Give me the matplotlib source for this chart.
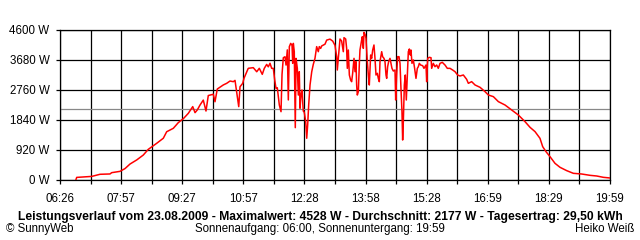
import matplotlib.pyplot as plt

plt.rcParams['font.family'] = ['Liberation Sans', 'DejaVu Sans']

# day curve, minutes after midnight and watts
minutes = [
    409.7, 410.7, 432.9, 445.1, 459.9, 462.4, 474.7, 482.1, 489.5, 499.4,
    509.1, 516.5, 528.9, 538.7, 543.7, 553.5, 560.9, 568.3, 575.7, 582.2,
    585.6, 589.0, 593.0, 597.8, 601.8, 605.2, 612.6, 615.1, 618.5, 627.4,
    632.4, 637.3, 642.2, 644.7, 648.1, 650.2, 652.1, 656.1, 658.0, 664.3,
    671.7, 676.8, 680.6, 683.1, 685.0, 688.0, 691.5, 693.9, 696.4, 698.9,
    701.3, 703.4, 705.3, 707.2, 708.7, 710.2, 712.7, 714.2, 716.1, 718.6,
    720.1, 722.0, 723.5, 725.0, 727.0, 729.0, 730.0, 730.9, 732.3, 733.8,
    734.9, 736.8, 738.3, 739.7, 740.8, 742.2, 743.7, 745.6, 747.1, 749.2,
    750.7, 752.1, 753.6, 755.6, 758.1, 760.4, 762.9, 765.4, 767.8, 769.3,
    771.3, 772.8, 777.7, 780.2, 785.1, 789.1, 792.5, 795.0, 795.9, 799.9,
    802.3, 804.8, 805.8, 808.3, 809.7, 810.7, 812.2, 813.7, 815.6, 817.1,
    818.6, 820.6, 822.1, 823.5, 824.5, 825.5, 827.0, 828.5, 829.4, 831.9,
    832.9, 834.4, 835.4, 837.3, 838.3, 840.3, 841.8, 843.2, 845.2, 846.7,
    848.2, 850.1, 851.6, 853.1, 855.1, 856.5, 858.0, 859.0, 861.5, 862.9,
    864.9, 866.4, 867.9, 868.9, 870.3, 871.8, 873.8, 875.3, 876.7, 878.7,
    881.2, 882.2, 883.6, 885.1, 887.1, 888.6, 890.0, 891.5, 892.5, 893.5,
    895.0, 896.4, 897.9, 899.4, 900.9, 902.4, 903.8, 904.8, 906.3, 908.3,
    910.2, 912.2, 914.2, 915.7, 917.1, 919.1, 922.1, 924.0, 927.0, 928.0,
    929.5, 931.9, 934.4, 935.4, 937.8, 940.3, 942.8, 945.2, 947.7, 951.1,
    955.1, 958.5, 962.5, 966.4, 969.9, 973.8, 977.3, 982.2, 987.1, 989.6,
    994.5, 999.5, 1006.9, 1014.3, 1019.2, 1026.6, 1034.0, 1043.8, 1053.7, 1063.5,
    1073.4, 1080.8, 1088.2, 1095.5, 1099.5, 1104.4, 1110.3, 1117.7, 1125.1, 1135.0,
    1144.8, 1157.1, 1169.5, 1179.3, 1189.2, 1199.0,
]
watts = [
    20, 80, 110, 175, 185, 225, 265, 350, 490, 615,
    765, 940, 1125, 1280, 1480, 1585, 1760, 1880, 2045, 2250,
    2065, 2150, 2300, 2450, 2115, 2590, 2630, 2400, 2790, 2915,
    2965, 3035, 3015, 3055, 2555, 2250, 2860, 2965, 3120, 3425,
    3445, 3320, 3425, 3320, 3240, 3425, 3545, 3470, 3580, 3424,
    3424, 3065, 2810, 2830, 2555, 2300, 2095, 3240, 3750, 3780,
    3525, 3990, 2455, 4090, 4190, 4130, 3580, 4190, 3935, 1605,
    3730, 3424, 2605, 3320, 2200, 2605, 2760, 2115, 2075, 1790,
    1280, 1690, 2300, 2915, 3320, 3545, 3730, 4090, 3935, 4090,
    4035, 4110, 4165, 4290, 4320, 4260, 4130, 3780, 3373, 4324,
    4262, 3935, 4365, 4324, 4037, 3424, 3986, 3220, 3066, 3015,
    3271, 3731, 3322, 3629, 2913, 2606, 2709, 3577, 3986, 4293,
    4395, 4037, 4528, 4446, 4344, 3629, 3220, 2913, 3833, 3731,
    3986, 4140, 3731, 3220, 3271, 3117, 3015, 3629, 3935, 3782,
    3731, 3629, 3220, 3117, 3475, 3629, 3731, 3577, 3424, 3342,
    3373, 2453, 3220, 3782, 3782, 3577, 2811, 2095, 1226, 1789,
    2913, 3220, 2453, 3220, 3935, 4017, 3833, 3986, 3577, 3680,
    3424, 3117, 3424, 3475, 3577, 3526, 3506, 3424, 3526, 3015,
    3731, 3761, 3751, 3424, 3577, 3475, 3526, 3424, 3577, 3608,
    3526, 3424, 3424, 3373, 3322, 3220, 3190, 3220, 3087, 2965,
    3016, 2914, 2842, 2709, 2607, 2556, 2403, 2300, 2147, 1994,
    1789, 1615, 1483, 1278, 1023, 869, 716, 511, 389, 287,
    205, 184, 143, 123, 82, 62,
]

x_labels = ['06:26', '07:57', '09:27', '10:57', '12:28',
            '13:58', '15:28', '16:59', '18:29', '19:59']
y_ticks = [0, 920, 1840, 2760, 3680, 4600]
t_start, t_end = 386, 1199
average_w = 2177

fig = plt.figure(figsize=(6.4, 2.4), dpi=100)
ax = fig.add_axes([60 / 640, 60 / 240, 550 / 640, 150 / 240])

step = (t_end - t_start) / (len(x_labels) - 1)
major = [t_start + i * step for i in range(len(x_labels))]
minor = [m + step / 2 for m in major[:-1]]

ax.set_xlim(t_start, t_end)
ax.set_ylim(0, 4600)
ax.set_xticks(major)
ax.set_xticklabels(x_labels)
ax.set_xticks(minor, minor=True)
ax.set_yticks(y_ticks)
ax.set_yticklabels([f'{v} W' for v in y_ticks])

ax.grid(True, which='both', color='black', lw=0.9)
ax.set_axisbelow(True)
for s in ax.spines.values():
    s.set_linewidth(0.9)
ax.tick_params(which='both', length=3, width=0.9, color='black', labelsize=8.3)
ax.tick_params(axis='x', pad=6)
ax.tick_params(axis='y', pad=4.5)

ax.axhline(average_w, color='#888888', lw=0.9, zorder=2)
ax.plot(minutes, watts, color='#ff0000', lw=1.1, zorder=3)

fig.text(0.5, 1 - 217 / 240, 'Leistungsverlauf vom 23.08.2009 - Maximalwert: 4528 W - '
         'Durchschnitt: 2177 W - Tagesertrag: 29,50 kWh',
         ha='center', va='center', fontsize=8.7, fontweight='bold')
fig.text(6 / 640, 1 - 229 / 240, '\u00a9 SunnyWeb', ha='left', va='center', fontsize=8.3)
fig.text(320 / 640, 1 - 229 / 240, 'Sonnenaufgang: 06:00, Sonnenuntergang: 19:59',
         ha='center', va='center', fontsize=8.3)
fig.text(634 / 640, 1 - 229 / 240, 'Heiko Wei\u00df', ha='right', va='center', fontsize=8.3)

fig.savefig('out.png', dpi=100)
